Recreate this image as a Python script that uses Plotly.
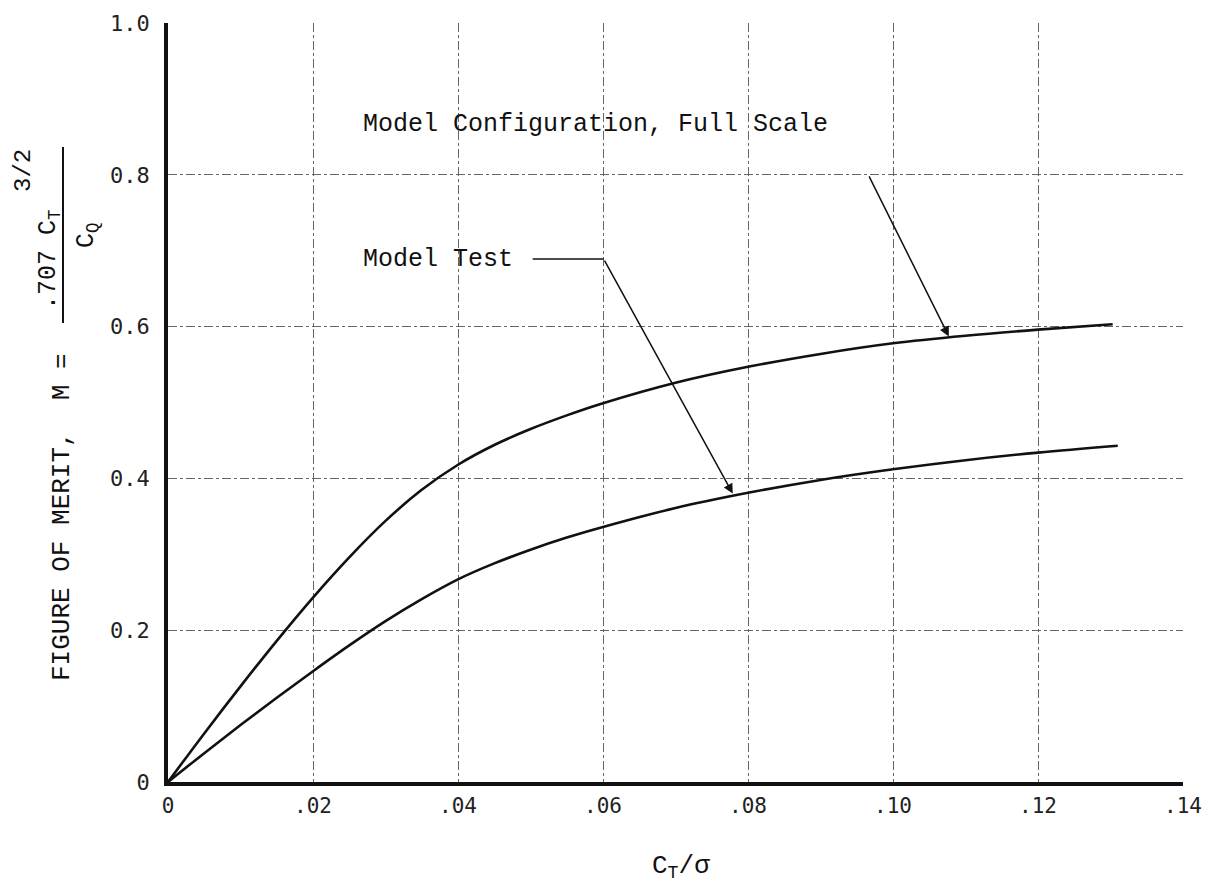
import plotly.graph_objects as go

# ---- data ----
ct_sigma_full = [0, 0.005, 0.010, 0.015, 0.020, 0.025, 0.030, 0.035, 0.040, 0.045, 0.050, 0.055,
                 0.060, 0.070, 0.080, 0.090, 0.100, 0.110, 0.120, 0.1303]
merit_full = [0, 0.064, 0.126, 0.186, 0.243, 0.296, 0.344, 0.385, 0.418, 0.444, 0.465, 0.483,
              0.499, 0.526, 0.547, 0.564, 0.578, 0.588, 0.596, 0.603]

ct_sigma_model = [0, 0.005, 0.010, 0.015, 0.020, 0.025, 0.030, 0.035, 0.040, 0.045, 0.050, 0.055,
                  0.060, 0.070, 0.080, 0.090, 0.100, 0.110, 0.120, 0.131]
merit_model = [0, 0.038, 0.075, 0.111, 0.146, 0.180, 0.212, 0.241, 0.267, 0.288, 0.306, 0.322,
               0.336, 0.361, 0.381, 0.398, 0.412, 0.424, 0.434, 0.443]

x_tickvals = [0, 0.02, 0.04, 0.06, 0.08, 0.10, 0.12, 0.14]
x_ticktext = ["0", ".02", ".04", ".06", ".08", ".10", ".12", ".14"]
y_tickvals = [0, 0.2, 0.4, 0.6, 0.8, 1.0]
y_ticktext = ["0", "0.2", "0.4", "0.6", "0.8", "1.0"]

# annotation pointers (tail -> tip, data units)
full_label = "Model Configuration, Full Scale"
full_label_pos = (0.0266, 0.866)
full_arrow_tail = (0.0966, 0.800)
full_arrow_tip = (0.1077, 0.587)
model_label = "Model Test"
model_label_pos = (0.0266, 0.689)
model_leader = (0.0503, 0.0601, 0.689)
model_arrow_tip = (0.0779, 0.380)

TYPE = "Liberation Mono, Courier New, monospace"
TICK = "DejaVu Sans Mono, monospace"

fig = go.Figure()
for xs, ys in [(ct_sigma_full, merit_full), (ct_sigma_model, merit_model)]:
    fig.add_trace(go.Scatter(x=xs, y=ys, mode="lines",
                             line=dict(color="#111", width=2.6, shape="spline", smoothing=1.0),
                             showlegend=False, hoverinfo="skip"))

L, R, T, B = 168, 38, 23, 104
W, H = 1221, 886
PW, PH = W - L - R, H - T - B
def px(xp):
    return (xp - L) / PW
def py(yp):
    return (H - B - yp) / PH

annotations = [
    dict(x=full_label_pos[0], y=full_label_pos[1], xref="x", yref="y", text=full_label, showarrow=False,
         xanchor="left", yanchor="middle", font=dict(family=TYPE, size=25, color="#111")),
    dict(x=model_label_pos[0], y=model_label_pos[1], xref="x", yref="y", text=model_label, showarrow=False,
         xanchor="left", yanchor="middle", font=dict(family=TYPE, size=25, color="#111")),
    dict(x=full_arrow_tip[0], y=full_arrow_tip[1], ax=full_arrow_tail[0], ay=full_arrow_tail[1],
         xref="x", yref="y", axref="x", ayref="y", text="", showarrow=True,
         arrowhead=2, arrowsize=1.3, arrowwidth=1.5, arrowcolor="#111"),
    dict(x=model_arrow_tip[0], y=model_arrow_tip[1], ax=model_leader[1], ay=model_leader[2],
         xref="x", yref="y", axref="x", ayref="y", text="", showarrow=True,
         arrowhead=2, arrowsize=1.3, arrowwidth=1.5, arrowcolor="#111"),
    # y-axis title pieces
    dict(x=px(62), y=py(517), xref="paper", yref="paper", text="FIGURE OF MERIT,  M =",
         textangle=-90, showarrow=False, xanchor="center", yanchor="middle",
         font=dict(family=TYPE, size=26, color="#111")),
    dict(x=px(49), y=py(260), xref="paper", yref="paper", text=".707 C<sub>T</sub>",
         textangle=-90, showarrow=False, xanchor="center", yanchor="middle",
         font=dict(family=TYPE, size=25, color="#111")),
    dict(x=px(24), y=py(171), xref="paper", yref="paper", text="3/2",
         textangle=-90, showarrow=False, xanchor="center", yanchor="middle",
         font=dict(family=TYPE, size=24, color="#111")),
    dict(x=px(88), y=py(235), xref="paper", yref="paper", text="C<sub>Q</sub>",
         textangle=-90, showarrow=False, xanchor="center", yanchor="middle",
         font=dict(family=TYPE, size=25, color="#111")),
    # x-axis title
    dict(x=px(681), y=py(867), xref="paper", yref="paper", text="C<sub>T</sub>/σ",
         showarrow=False, xanchor="center", yanchor="middle",
         font=dict(family=TYPE, size=26, color="#111")),
]

shapes = [
    dict(type="line", xref="x", yref="y", x0=model_leader[0], x1=model_leader[1],
         y0=model_leader[2], y1=model_leader[2], line=dict(color="#111", width=1.5)),
    dict(type="line", xref="paper", yref="paper", x0=px(63), x1=px(63), y0=py(147), y1=py(323),
         line=dict(color="#111", width=2)),
]

fig.update_layout(
    width=W, height=H,
    margin=dict(l=L, r=R, t=T, b=B, pad=0),
    paper_bgcolor="white", plot_bgcolor="white",
    annotations=annotations, shapes=shapes,
    xaxis=dict(range=[0, 0.14], tickvals=x_tickvals, ticktext=x_ticktext,
               showgrid=True, gridcolor="#666", gridwidth=1, griddash="dashdot",
               showline=True, linecolor="#111", linewidth=3.5, zeroline=False,
               ticks="", ticklabelstandoff=2,
               tickfont=dict(family=TICK, size=21, color="#222")),
    yaxis=dict(range=[0, 1.0], tickvals=y_tickvals, ticktext=y_ticktext,
               showgrid=True, gridcolor="#666", gridwidth=1, griddash="dashdot",
               showline=True, linecolor="#111", linewidth=3.5, zeroline=False,
               ticks="", ticklabelstandoff=10,
               tickfont=dict(family=TICK, size=22, color="#222")),
)

fig.write_html("out.html")
